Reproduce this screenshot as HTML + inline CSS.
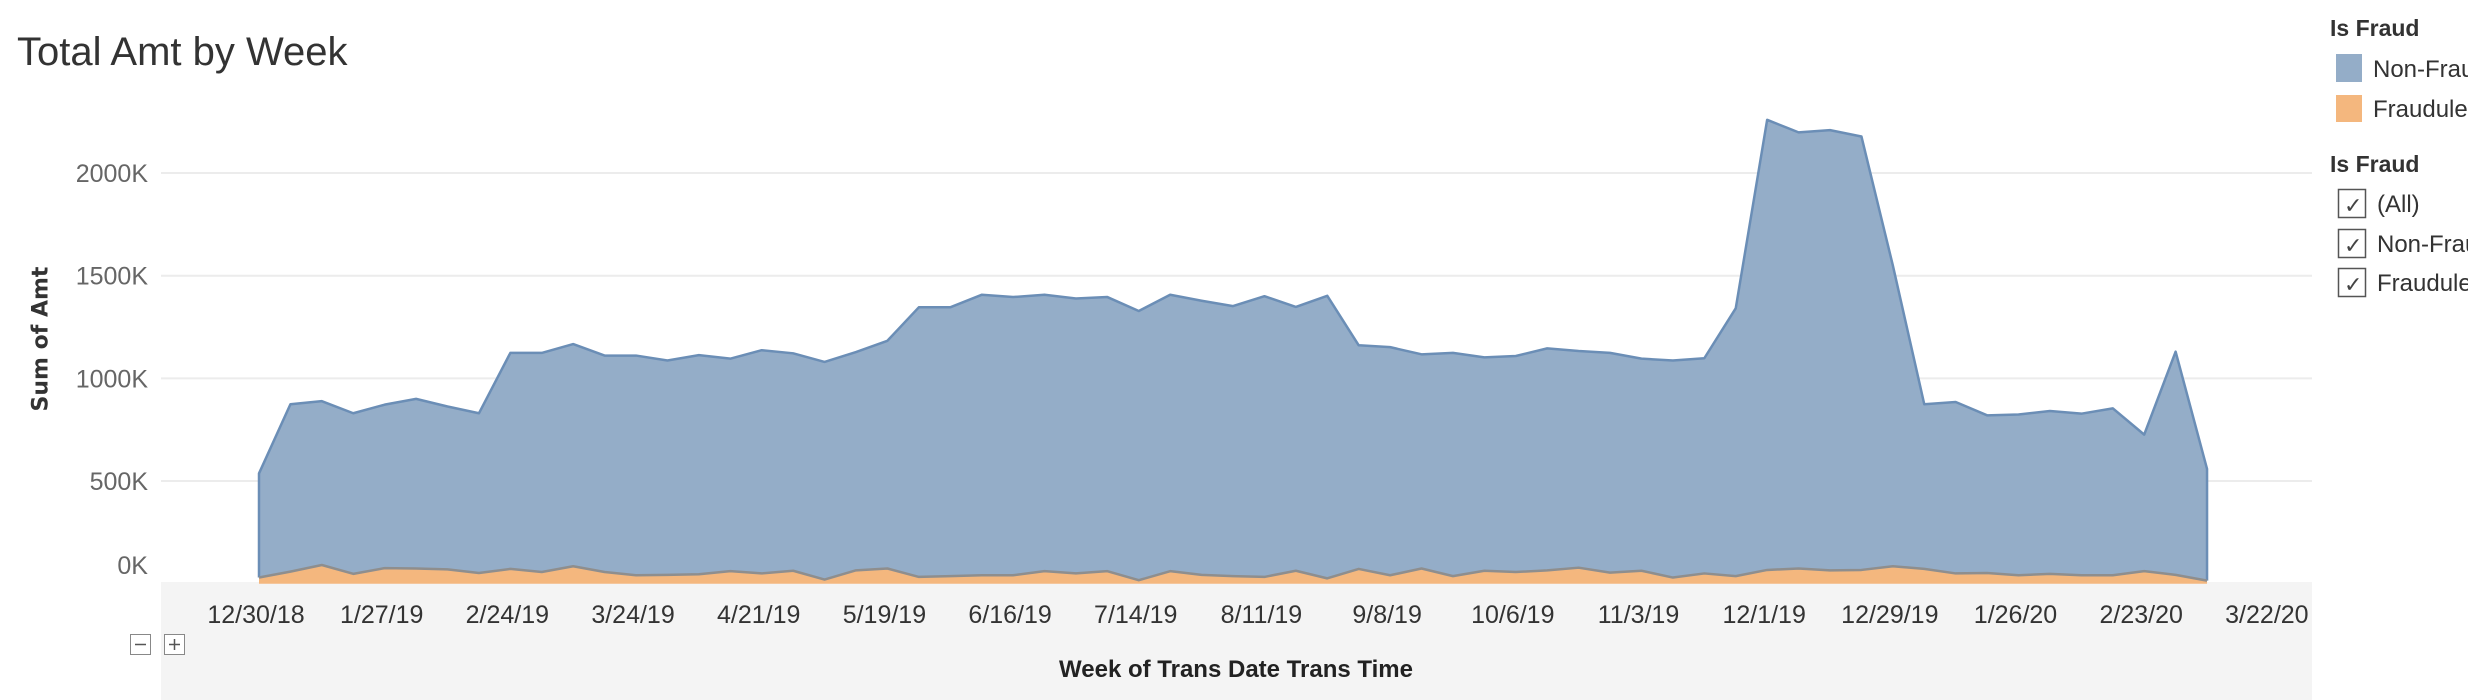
<!DOCTYPE html>
<html><head><meta charset="utf-8"><style>
html,body{margin:0;padding:0;background:#fff;width:2468px;height:700px;overflow:hidden}
svg{display:block;font-family:"Liberation Sans",sans-serif}
</style></head><body>
<svg id="chart" width="2468" height="700" viewBox="0 0 2468 700">
<text x="17" y="65" font-size="40" fill="#333">Total Amt by Week</text>
<rect x="161" y="582" width="2151" height="118" fill="#f4f4f4"/>
<g id="grid"></g>
<g id="yticks"></g>
<g id="areas"></g>
<g id="xticks"></g>
<text transform="translate(41,339) rotate(-90)" text-anchor="middle" dominant-baseline="central" font-size="22" font-family="DejaVu Sans, sans-serif" fill="#333" font-weight="600">Sum of Amt</text>
<text x="1236" y="677" text-anchor="middle" font-size="24" font-weight="600" fill="#222">Week of Trans Date Trans Time</text>
<g><rect x="130.5" y="634.5" width="20" height="20" fill="#fff" stroke="#888"/><line x1="135" y1="644.5" x2="146" y2="644.5" stroke="#555" stroke-width="1.5"/></g>
<g><rect x="164.5" y="634.5" width="20" height="20" fill="#fff" stroke="#888"/><line x1="169" y1="644.5" x2="180" y2="644.5" stroke="#555" stroke-width="1.5"/><line x1="174.5" y1="639" x2="174.5" y2="650" stroke="#555" stroke-width="1.5"/></g>
<text x="2330" y="36" font-size="23" font-weight="600" fill="#333">Is Fraud</text>
<g><rect x="2336" y="54" width="26" height="28" fill="#94adc8"/><text x="2373" y="77" font-size="24" fill="#333">Non-Fraud</text></g>
<g><rect x="2336" y="95" width="26" height="27" fill="#f4b77e"/><text x="2373" y="117" font-size="24" fill="#333">Fraudulent</text></g>
<text x="2330" y="172" font-size="23" font-weight="600" fill="#333">Is Fraud</text>
<g><rect x="2338.5" y="189.5" width="27" height="28" fill="#fff" stroke="#555" stroke-width="1.5"/><text x="2344" y="213" font-size="22" fill="#444">✓</text><text x="2377" y="212" font-size="24" fill="#333">(All)</text></g>
<g><rect x="2338.5" y="229.5" width="27" height="28" fill="#fff" stroke="#555" stroke-width="1.5"/><text x="2344" y="253" font-size="22" fill="#444">✓</text><text x="2377" y="252" font-size="24" fill="#333">Non-Fraud</text></g>
<g><rect x="2338.5" y="268.5" width="27" height="28" fill="#fff" stroke="#555" stroke-width="1.5"/><text x="2344" y="292" font-size="22" fill="#444">✓</text><text x="2377" y="291" font-size="24" fill="#333">Fraudulent</text></g>
</svg>
<script>
const fraudK = [30,59,91,48,76,74,70,52,72,57,85,57,41,43,46,61,50,63,20,65,74,33,37,41,41,61,50,61,17,61,43,37,33,63,26,72,41,74,37,63,57,65,78,54,63,30,50,37,67,74,65,67,85,72,50,52,41,48,41,41,61,43,15];
const nonFraudK = [507,815,798,782,796,826,793,778,1052,1067,1082,1054,1070,1044,1067,1035,1087,1059,1060,1063,1109,1313,1309,1366,1355,1346,1339,1335,1311,1346,1335,1315,1367,1285,1376,1089,1111,1043,1087,1039,1052,1081,1055,1070,1033,1057,1048,1304,2192,2124,2144,2111,1465,802,835,768,783,793,787,813,665,1087,544];
const yTickValues = [0,500,1000,1500,2000];
const yTickLabels = ["0K","500K","1000K","1500K","2000K"];
const xTickWeeks = [0,4,8,12,16,20,24,28,32,36,40,44,48,52,56,60,64];
const xTickLabels = ["12/30/18","1/27/19","2/24/19","3/24/19","4/21/19","5/19/19","6/16/19","7/14/19","8/11/19","9/8/19","10/6/19","11/3/19","12/1/19","12/29/19","1/26/20","2/23/20","3/22/20"];

const NS="http://www.w3.org/2000/svg";
function y(v){return 583.7 - v/500*102.67;}
function xw(w){return 259 + w*31.42;}
function xl(w){return 256 + w*31.42;}
function mk(tag,attrs,parent){const e=document.createElementNS(NS,tag);for(const k in attrs)e.setAttribute(k,attrs[k]);parent.appendChild(e);return e;}

const grid=document.getElementById('grid'), yt=document.getElementById('yticks');
yTickValues.forEach((v,i)=>{
  if(v>0){const g=mk('line',{x1:161,x2:2312,y1:y(v),y2:y(v),stroke:'#ececec','stroke-width':2},grid);
  
  }
  const t=mk('text',{x:148,y:(v===0?565:y(v))+9,'text-anchor':'end','font-size':25,fill:'#666'},yt);
  t.textContent=yTickLabels[i];
  
  
});

const areas=document.getElementById('areas');
const tops=nonFraudK.map((v,i)=>v+fraudK[i]);
let bluePts=tops.map((v,i)=>xw(i)+','+y(v));
let fraudPts=fraudK.map((v,i)=>xw(i)+','+y(v));
const n=tops.length;
const blue=mk('polygon',{points:bluePts.join(' ')+' '+fraudPts.slice().reverse().join(' '),fill:'#94adc8'},areas);


const orange=mk('polygon',{points:fraudPts.join(' ')+' '+xw(n-1)+','+y(0)+' '+xw(0)+','+y(0),fill:'#f4b77e'},areas);


const bl=mk('polyline',{points:xw(0)+','+y(fraudK[0])+' '+bluePts.join(' ')+' '+xw(n-1)+','+y(fraudK[n-1]),fill:'none',stroke:'#6b8eb6','stroke-width':2.5,'stroke-linejoin':'round'},areas);


const ol=mk('polyline',{points:fraudPts.join(' '),fill:'none',stroke:'#8e8e8e','stroke-width':2.5,'stroke-linejoin':'round'},areas);



const xt=document.getElementById('xticks');
xTickWeeks.forEach((w,i)=>{
  const t=mk('text',{x:xl(w),y:623,'text-anchor':'middle','font-size':25,fill:'#333'},xt);
  t.textContent=xTickLabels[i];
  
  
});
</script>
</body></html>
